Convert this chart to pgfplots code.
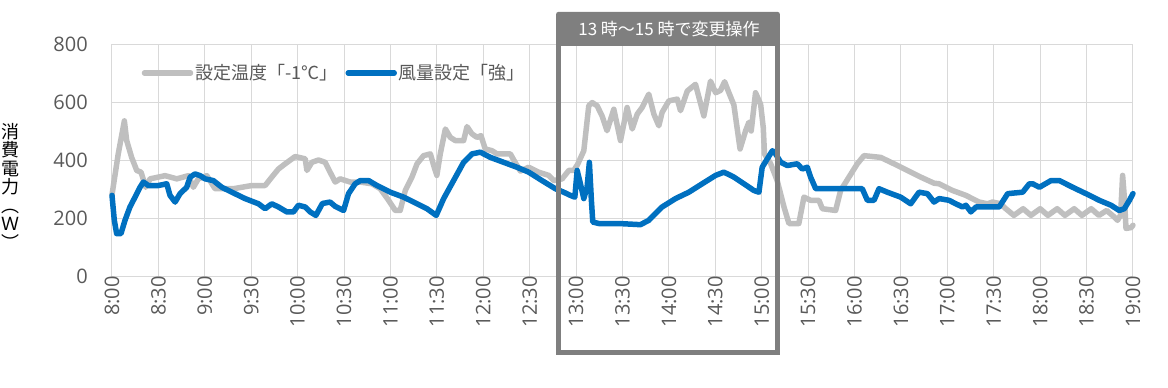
\documentclass[border=0pt]{standalone}
\usepackage{fontspec}
\usepackage{pgfplots}
\pgfplotsset{compat=1.18}
\setmainfont{Open Sans}
\newfontfamily\jp{Noto Sans CJK JP}
\definecolor{gridc}{HTML}{D9D9D9}
\definecolor{txt}{HTML}{595959}
\definecolor{grayl}{HTML}{BFBFBF}
\definecolor{bluel}{HTML}{0070C0}
\definecolor{boxc}{HTML}{7F7F7F}
\begin{document}
\begin{tikzpicture}
\path[use as bounding box] (-112pt,-112pt) rectangle (1056pt,276pt);
\begin{axis}[
  at={(0pt,0pt)}, anchor=south west,
  scale only axis, width=1021pt, height=232pt,
  xmin=0, xmax=660, ymin=0, ymax=800,
  xtick={0,30,...,660},
  xticklabels={8:00,8:30,9:00,9:30,10:00,10:30,11:00,11:30,12:00,12:30,13:00,13:30,14:00,14:30,15:00,15:30,16:00,16:30,17:00,17:30,18:00,18:30,19:00},
  ytick={0,200,...,800},
  grid=major, major grid style={draw=gridc, line width=1pt},
  axis line style={draw=gridc, line width=1pt},
  tick style={draw=none},
  /pgf/number format/assume math mode=true,
  ticklabel style={font=\fontsize{20}{20}\selectfont, text=txt},
  xticklabel style={rotate=90, anchor=east, inner sep=0pt},
  yticklabel style={anchor=east, inner sep=0pt, xshift=-24pt},
  legend style={at={(0.026,0.875)}, anchor=west, draw=none, fill=none,
    font=\jp\fontsize{18}{18}\selectfont, text=txt, legend columns=2,
    /tikz/every even column/.append style={column sep=6pt},
    legend cell align=left},
  legend image code/.code={\draw[#1] (0pt,0pt) -- (46pt,0pt);},
  clip=false,
]
\addplot[grayl, line width=5.5pt, line join=round, line cap=round] coordinates {
(0,280) (4,420) (8,535) (9.5,467) (12.7,409) (16,364) (18.8,358) (21.8,306)
(24.6,335) (34.3,346) (41.9,335) (49.4,346) (52.6,306) (55.8,335) (61.3,346)
(66.6,301) (78.5,301) (90.4,312) (99,312) (103.3,341) (107.6,369) (112,387)
(118.4,412) (124.9,404) (126,364) (129.2,392) (133.5,400) (137.8,392) (141,358)
(144.3,324) (147.5,335) (154,324) (160.5,324) (168,318) (173.4,301) (178.8,261)
(183.1,226) (186.3,226) (189.6,295) (193.9,341) (197.2,387) (201.4,415) (205.8,421)
(208.3,375) (210,347) (212.2,421) (215.5,507) (218.7,478) (221.9,467) (227.3,467)
(229.5,515) (232.7,490) (236,478) (238.5,484) (241.3,438) (245.7,432) (248.9,421)
(257.5,421) (261,388) (264,362) (269.4,375) (275.8,358) (282.3,347) (285.6,329)
(291,335) (295.3,364) (298.5,364) (301,385) (305,432) (308.2,587) (310.4,598)
(313.6,587) (316.8,552) (320,501) (324.4,575) (328.7,467) (333,581) (336.3,507)
(339.5,558) (342.7,581) (347,627) (350.3,558) (353.5,518) (355.6,564) (360,604)
(365.4,610) (367.5,570) (371.9,638) (377.2,661) (382.6,552) (386.9,672) (390.2,632)
(393.4,640) (396,670) (398.8,632) (402,590) (406,438) (409.6,501) (411.7,530)
(413.2,500) (416,632) (419.3,592) (421,512) (421.8,421) (425.8,387) (430,329)
(434.4,238) (437.6,181) (444,181) (447.3,272) (451.6,261) (457,261) (459.2,232)
(467.8,226) (471,295) (476.4,341) (481.8,387) (486.1,415) (496.9,409) (505.5,387)
(514.2,364) (522.8,341) (531.4,320) (534.7,318) (543.3,295) (552,278) (560.5,255)
(566,249) (569.2,255) (574.6,249) (577.8,232) (583,209) (589,232) (594,209)
(600,232) (605,209) (611,232) (616,209) (622,232) (627,209) (633,232) (638,209)
(643,226) (648,203) (650,192) (652,210) (653.3,347) (654.4,272) (655.5,164)
(658.8,167) (660,175)
};
\addlegendentry{設定温度「-1℃」}
\addplot[bluel, line width=5.5pt, line join=round, line cap=round] coordinates {
(0,278) (1.5,192) (3,146) (5.8,146) (8.4,192) (11.6,238) (14.9,272) (18.1,306)
(20.3,324) (23.5,312) (30,312) (35.4,318) (37.5,278) (40.8,255) (44,284)
(48.3,306) (50.5,341) (53.7,352) (57,346) (60.2,335) (65.5,329) (71,306)
(77.5,289) (86,267) (94.7,249) (99,232) (103.3,249) (107.6,238) (113,221)
(117.3,221) (120.5,244) (124.9,238) (128.1,221) (131.8,209) (136,250) (141,255)
(144.3,240) (149.7,226) (152.9,284) (157.2,318) (160.5,329) (165.9,329) (171.3,312)
(179.9,289) (188.5,272) (197.2,249) (203.6,232) (209.6,209) (214.4,267) (220.8,329)
(227.3,392) (232.7,421) (238.1,427) (244.6,409) (253.2,392) (261.8,375) (269.4,358)
(278,329) (286.6,301) (292,289) (296.3,278) (299.2,272) (300.7,364) (302.8,318)
(305,267) (307.1,306) (308.6,392) (309.9,261) (310.8,186) (314.7,181) (327.6,181)
(341.6,177) (347,192) (355.6,238) (364.3,267) (372.9,289) (381.5,318) (390.2,347)
(395.5,358) (399.9,347) (402,341) (408.5,318) (414.9,295) (418.2,289) (420.3,375)
(423.6,404) (426.9,432) (429,421) (432.3,392) (436.6,381) (443,387) (446.2,369)
(449.5,375) (451.6,341) (454.9,301) (462.4,301) (479.7,301) (485,301) (488.3,261)
(492.6,261) (495.8,301) (501.2,289) (509.8,272) (516.3,249) (521.7,289) (527.1,284)
(531.4,255) (534.7,267) (541.1,261) (545.5,249) (549.8,238) (552,244) (555.2,221)
(558.5,238) (564.9,238) (573.5,238) (579,284) (588.7,289) (593,318) (595.2,318)
(599.5,306) (607,329) (612.4,329) (621,306) (629.6,284) (638.2,261) (645.8,244)
(651.1,226) (654.4,232) (657.7,261) (660,284)
};
\addlegendentry{風量設定「強」}
\end{axis}
% annotation box
\fill[boxc, rounded corners=2pt] (444.2pt,230pt) rectangle (667.8pt,264pt);
\draw[boxc, line width=4.5pt] (446.5pt,232pt) -- (446.5pt,-76.5pt) -- (665.5pt,-76.5pt) -- (665.5pt,232pt);
\node[text=white, font=\jp\fontsize{17}{17}\selectfont, inner sep=0pt] at (557pt,247pt) {13 時～15 時で変更操作};
% y label
\node[font=\jp\fontsize{18}{18.5}\selectfont, align=center, inner sep=0pt, anchor=north] at (-101pt,153pt)
 {消\\費\\電\\力\\︵\\Ｗ\\︶};
\end{tikzpicture}
\end{document}
